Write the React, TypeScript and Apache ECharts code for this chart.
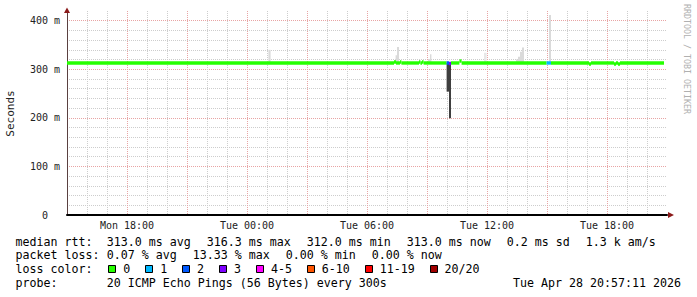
import React, { useEffect, useRef } from "react";
import * as echarts from "echarts";

// ---- data ----
// x axis in hours from Mon 15:00 (0) to Tue 21:00 (30)
const hourTicks = [3, 9, 15, 21, 27];
const hourTickLabels = ["Mon 18:00", "Tue 00:00", "Tue 06:00", "Tue 12:00", "Tue 18:00"];
const yTickValues = [0, 100, 200, 300, 400];
const yTickLabels = ["0", "100 m", "200 m", "300 m", "400 m"];

// median rtt segments: [startHour, endHour, median (ms), loss class]
const medianSegments: number[][] = [
  [0, 16.35, 313, 0],
  [16.35, 16.45, 315, 0],
  [16.45, 16.65, 313, 0],
  [16.65, 16.72, 315, 0],
  [16.72, 17.6, 313, 0],
  [17.6, 17.67, 315, 0],
  [17.67, 17.75, 313, 0],
  [17.75, 17.83, 315, 0],
  [17.83, 18.98, 313, 0],
  [18.98, 19.1, 313, 2],
  [19.1, 19.2, 312, 3],
  [19.2, 19.62, 313, 0],
  [19.62, 19.73, 317, 0],
  [19.73, 23.98, 313, 0],
  [23.98, 24.2, 313, 1],
  [24.2, 26.1, 313, 0],
  [26.1, 26.2, 311, 0],
  [26.2, 27.35, 313, 0],
  [27.35, 27.45, 311, 0],
  [27.45, 27.55, 313, 0],
  [27.55, 27.65, 311, 0],
  [27.65, 29.85, 313, 0],
];

// smoke: [startHour, endHour, low (ms), high (ms), shade]
const smokeBars: number[][] = [
  [10.07, 10.18, 313, 340, 0],
  [16.43, 16.5, 313, 329, 0],
  [16.5, 16.6, 313, 346, 0],
  [18.05, 18.15, 313, 321, 0],
  [18.15, 18.22, 313, 331, 0],
  [18.98, 19.1, 254, 313, 1],
  [19.1, 19.2, 199, 313, 1],
  [20.85, 20.98, 313, 334, 2],
  [22.45, 22.55, 313, 320, 0],
  [22.55, 22.65, 313, 326, 0],
  [22.65, 22.75, 313, 336, 0],
  [22.75, 22.85, 313, 345, 0],
  [24.1, 24.2, 313, 412, 0],
];
const smokeShades = ["#dadada", "#3f3f3f", "#e8e8e8"];

const lossLabels = ["0", "1", "2", "3", "4-5", "6-10", "11-19", "20/20"];
const lossColors = ["#26ff00", "#00b8ff", "#0059ff", "#7e00ff", "#ff00ff", "#ff5500", "#ff0000", "#a00000"];

const rttStats = ["313.0 ms avg", "316.3 ms max", "312.0 ms min", "313.0 ms now", "0.2 ms sd", "1.3 k am/s"];
const lossStats = ["0.07 % avg", "13.33 % max", "0.00 % min", "0.00 % now"];
const probeText = "20 ICMP Echo Pings (56 Bytes) every 300s";
const stampText = "Tue Apr 28 20:57:11 2026";

// ---- layout ----
const MONO = "DejaVu Sans Mono";
const LEG_FS = 11.63;
const CW = 7.0;
const LX = 15.5;
const VX = 106.8;
const GAP = 16;

function monoRuns(str: string, x0: number, y: number, fill = "#000", fs = LEG_FS, cw = CW) {
  const out: any[] = [];
  const re = /\S+/g;
  let m: RegExpExecArray | null;
  while ((m = re.exec(str))) {
    out.push({
      type: "text",
      z: 100,
      style: {
        text: m[0],
        x: x0 + m.index * cw,
        y,
        font: `${fs}px "${MONO}"`,
        fill,
        textVerticalAlign: "middle",
        verticalAlign: "middle",
      },
    });
  }
  return out;
}

function itemRow(items: string[], x0: number, y: number) {
  const out: any[] = [];
  let x = x0;
  items.forEach((s) => {
    out.push(...monoRuns(s, x, y));
    x += s.length * CW + GAP;
  });
  return out;
}

export default function App() {
  const ref = useRef<HTMLDivElement>(null);
  useEffect(() => {
    if (!ref.current) return;
    const chart = echarts.init(ref.current, null, { renderer: "svg" });

    const red = "#e8a4a4";
    const grey = "#cdcdcd";

    const graphics: any[] = [];
    // arrows
    graphics.push({ type: "polygon", z: 100, shape: { points: [[64, 13], [70, 13], [67, 7.5]] }, style: { fill: "#8b1a1a" } });
    graphics.push({ type: "polygon", z: 100, shape: { points: [[668, 212], [668, 218], [674, 215]] }, style: { fill: "#8b1a1a" } });
    // y title
    graphics.push({
      type: "text", z: 100, x: 10.5, y: 113.5, rotation: Math.PI / 2,
      style: { text: "Seconds", font: `11px "${MONO}"`, fill: "#222", textAlign: "center", align: "center", textVerticalAlign: "middle", verticalAlign: "middle" },
    });
    // watermark
    graphics.push({
      type: "text", z: 100, x: 687, y: 59, rotation: -Math.PI / 2,
      style: { text: "RRDTOOL / TOBI OETIKER", font: `8.3px "${MONO}"`, fill: "#b0b0b0", textAlign: "center", align: "center", textVerticalAlign: "middle", verticalAlign: "middle" },
    });

    // legend rows
    graphics.push(...monoRuns("median rtt:", LX, 241.5));
    graphics.push(...itemRow(rttStats, VX, 241.5));
    graphics.push(...monoRuns("packet loss:", LX, 255.3));
    graphics.push(...itemRow(lossStats, VX, 255.3));
    graphics.push(...monoRuns("loss color:", LX, 269.3));
    graphics.push(...monoRuns("probe:", LX, 283.3));
    graphics.push(...monoRuns(probeText, VX, 283.3));
    graphics.push(...monoRuns(stampText, 513, 283.3));

    let bx = 108.3;
    lossLabels.forEach((lab, i) => {
      graphics.push({
        type: "rect", z: 100,
        shape: { x: Math.round(bx) + 0.5, y: 265.5, width: 7, height: 7 },
        style: { fill: lossColors[i], stroke: "#000", lineWidth: 1 },
      });
      graphics.push(...monoRuns(lab, bx + 15.0, 269.3));
      bx += lab.length * CW + 29.9;
    });

    const option: any = {
      animation: false,
      backgroundColor: "#ffffff",
      grid: { left: 67, right: 30, top: 11, bottom: 82, containLabel: false },
      xAxis: {
        type: "value",
        min: 0,
        max: 30,
        interval: 1,
        axisLine: { show: true, onZero: false, lineStyle: { color: "#000", width: 2 } },
        axisTick: { show: false },
        axisLabel: {
          interval: 0,
          margin: 5,
          fontFamily: MONO,
          fontSize: 10,
          color: "#222",
          formatter: (v: number) => {
            const i = hourTicks.indexOf(v);
            return i >= 0 ? hourTickLabels[i] : "";
          },
        },
        splitLine: {
          show: true,
          showMaxLine: false,
          lineStyle: { color: [red, grey, grey], type: [1, 1], width: 1 },
        },
      },
      yAxis: {
        type: "value",
        min: 0,
        max: 420,
        interval: 20,
        axisLine: { show: true, onZero: false, lineStyle: { color: "#5a4040", width: 1 } },
        axisTick: { show: false },
        axisLabel: {
          margin: 7,
          fontFamily: MONO,
          fontSize: 10,
          color: "#222",
          formatter: (v: number) => {
            const i = yTickValues.indexOf(v);
            if (i < 0) return "";
            return v === 0 ? "{z|" + yTickLabels[i] + "}" : yTickLabels[i];
          },
          rich: { z: { fontFamily: MONO, fontSize: 10, color: "#222", padding: [0, 12, 0, 0] } },
        },
        splitLine: {
          show: true,
          showMaxLine: false,
          lineStyle: { color: [red, grey, grey, grey, grey], type: [1, 1], width: 1 },
        },
      },
      series: [
        {
          type: "custom",
          name: "smoke",
          data: smokeBars,
          encode: { x: [0, 1], y: [2, 3] },
          z: 2,
          renderItem: (params: any, api: any) => {
            const p0 = api.coord([api.value(0), api.value(3)]);
            const p1 = api.coord([api.value(1), api.value(2)]);
            return {
              type: "rect",
              shape: { x: p0[0], y: p0[1], width: p1[0] - p0[0], height: p1[1] - p0[1] },
              style: { fill: smokeShades[api.value(4)] },
            };
          },
        },
        {
          type: "custom",
          name: "median",
          data: medianSegments,
          encode: { x: [0, 1], y: [2] },
          z: 3,
          renderItem: (params: any, api: any) => {
            const p0 = api.coord([api.value(0), api.value(2)]);
            const p1 = api.coord([api.value(1), api.value(2)]);
            return {
              type: "rect",
              shape: { x: p0[0], y: p0[1] - 1.7, width: p1[0] - p0[0], height: 3.4 },
              style: { fill: lossColors[api.value(3)] },
            };
          },
        },
      ],
      graphic: graphics,
    };
    chart.setOption(option);
    return () => chart.dispose();
  }, []);

  return (
    <div
      ref={ref}
      style={{ position: "fixed", left: 0, top: 0, width: 697, height: 297, background: "#fff" }}
    />
  );
}
